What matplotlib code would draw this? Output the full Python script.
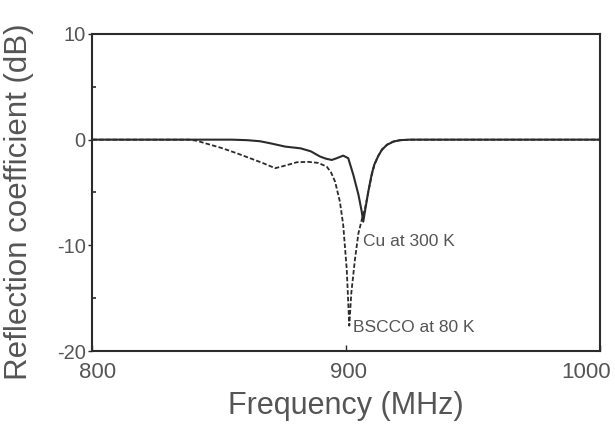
"""Reflection coefficient of Cu and BSCCO resonators versus frequency."""
import matplotlib

matplotlib.use("Agg")
import matplotlib.transforms as mtransforms
from matplotlib import pyplot as plt

# values
freq_cu = [800, 840, 855, 861, 866, 870, 876, 882, 886, 889.7, 892, 894.3, 896.2,
           898.8, 900.8, 902.8, 904.8, 906.1, 906.7, 907.5, 908.7, 910, 911,
           912.5, 914, 916, 918.5, 921, 925, 1000]
refl_cu = [0, 0, 0, -0.05, -0.15, -0.34, -0.66, -0.82, -1.1, -1.6, -1.8, -1.92, -1.76,
           -1.51, -1.76, -3.34, -5.2, -6.8, -7.76, -6.6, -4.9, -3.3, -2.4,
           -1.6, -0.97, -0.5, -0.19, -0.05, 0, 0]

freq_bscco = [800, 838, 841, 846, 851, 857, 862, 867, 872, 876, 880.5, 885, 889,
              892.3, 894, 895.6, 897.5, 898.8, 900.2, 901.2, 902, 903.4, 904.8,
              906.1, 907.5, 908.9, 910.2, 911.2, 912.7, 914.2, 916.2, 918.7, 921.5,
              925, 1000]
refl_bscco = [0, 0, -0.1, -0.45, -0.8, -1.3, -1.75, -2.2, -2.7, -2.45, -2.14, -2.1,
              -2.2, -2.55, -3.1, -3.97, -5.87, -8.07, -12.3, -17.6, -14.5, -11.4,
              -8.86, -7.6, -6.4, -4.7, -3.2, -2.3, -1.5, -0.9, -0.45, -0.17, -0.05,
              0, 0]

x_ticks = [800, 900, 1000]
y_ticks = [-20, -10, 0, 10]
y_minor = [-15, -5, 5]

ink = "#2b2b2b"
text_grey = "#555555"

plt.rcParams["font.family"] = ["Liberation Sans", "DejaVu Sans"]
plt.rcParams["axes.unicode_minus"] = False

fig = plt.figure(figsize=(6.15, 4.28), dpi=100)
ax = fig.add_axes([0.1504, 0.1799, 0.8252, 0.7407])

ax.plot(freq_cu, refl_cu, color=ink, linewidth=1.5, linestyle="-")
ax.plot(freq_bscco, refl_bscco, color=ink, linewidth=1.3, linestyle=(0, (2.5, 1.2)))

ax.set_xlim(800, 1000)
ax.set_ylim(-20, 10)
ax.set_xticks(x_ticks)
ax.set_yticks(y_ticks)
ax.set_yticks(y_minor, minor=True)

ax.tick_params(axis="x", direction="in", length=4, width=1, colors=ink,
               labelcolor=text_grey, labelsize=16, pad=8)
ax.tick_params(axis="y", which="major", direction="out", length=3, width=1,
               colors=ink, labelcolor=text_grey, labelsize=14.5, pad=2)
ax.tick_params(axis="y", which="minor", direction="in", length=3, width=1.2,
               colors=ink)
for spine in ax.spines.values():
    spine.set_color(ink)
    spine.set_linewidth(1.5)

# nudge the end labels of the x axis inward like in the print
for label, dx in zip(ax.get_xticklabels(), [5, 2, -14]):
    label.set_transform(label.get_transform()
                        + mtransforms.ScaledTranslation(dx / 100, 0, fig.dpi_scale_trans))

ax.set_xlabel("Frequency (MHz)", fontsize=22, color=text_grey, labelpad=6)
ax.set_ylabel("Reflection coefficient (dB)", fontsize=22.5, color=text_grey)
ax.yaxis.set_label_coords(-0.115, 0.47)

ax.text(906.5, -9.6, "Cu at 300 K", fontsize=12.5, color=text_grey,
        ha="left", va="center")
ax.text(902.5, -17.8, "BSCCO at 80 K", fontsize=12.5, color=text_grey,
        ha="left", va="center")

fig.savefig("out.png", dpi=100)
